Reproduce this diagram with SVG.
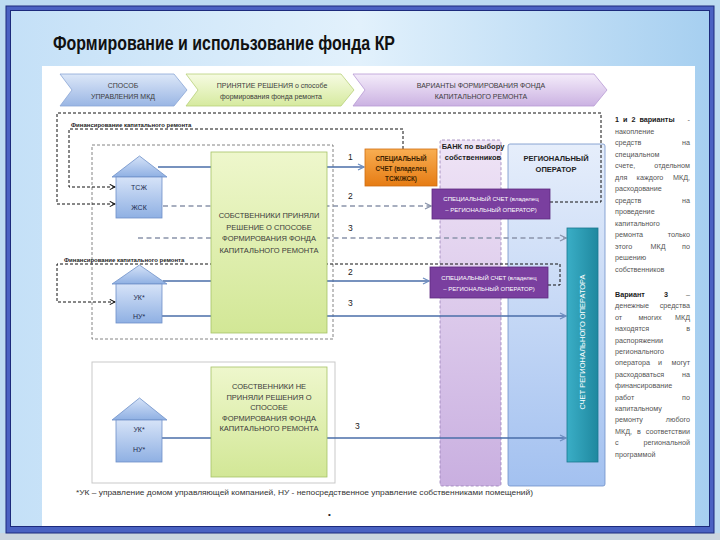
<svg xmlns="http://www.w3.org/2000/svg" width="720" height="540" viewBox="0 0 720 540">
<defs>
<linearGradient id="bgIn" x1="0" y1="0" x2="1" y2="0"><stop offset="0" stop-color="#c4e0f7"/><stop offset="0.5" stop-color="#e2f1fc"/><stop offset="1" stop-color="#a6cff0"/></linearGradient>
<linearGradient id="gChB" x1="0" y1="0" x2="0" y2="1"><stop offset="0" stop-color="#dce7f8"/><stop offset="1" stop-color="#9ab6e4"/></linearGradient>
<linearGradient id="gChG" x1="0" y1="0" x2="0" y2="1"><stop offset="0" stop-color="#f6fbe2"/><stop offset="1" stop-color="#d6ea9f"/></linearGradient>
<linearGradient id="gChP" x1="0" y1="0" x2="0" y2="1"><stop offset="0" stop-color="#f4ecfa"/><stop offset="1" stop-color="#cbb2e2"/></linearGradient>
<linearGradient id="gGreen" x1="0" y1="0" x2="0" y2="1"><stop offset="0" stop-color="#eef7cc"/><stop offset="1" stop-color="#d2e796"/></linearGradient>
<linearGradient id="gHouse" x1="0" y1="0" x2="0" y2="1"><stop offset="0" stop-color="#d6e3f8"/><stop offset="1" stop-color="#8fb0e3"/></linearGradient>
<linearGradient id="gOr" x1="0" y1="0" x2="0" y2="1"><stop offset="0" stop-color="#f8ae52"/><stop offset="1" stop-color="#e67c14"/></linearGradient>
<linearGradient id="gBank" x1="0" y1="0" x2="0" y2="1"><stop offset="0" stop-color="#efe4f6"/><stop offset="1" stop-color="#c9afe0"/></linearGradient>
<linearGradient id="gReg" x1="0" y1="0" x2="0" y2="1"><stop offset="0" stop-color="#e6eefb"/><stop offset="1" stop-color="#a3c1f0"/></linearGradient>
<linearGradient id="gTeal" x1="0" y1="0" x2="1" y2="0"><stop offset="0" stop-color="#3aaec6"/><stop offset="1" stop-color="#1f889f"/></linearGradient>
<marker id="aB" viewBox="0 0 8 8" refX="7" refY="4" markerWidth="8" markerHeight="8" markerUnits="userSpaceOnUse" orient="auto"><path d="M1,1 L7,4 L1,7" fill="none" stroke="#6f8fc0" stroke-width="1.3"/></marker>
<marker id="aG" viewBox="0 0 8 8" refX="7" refY="4" markerWidth="8" markerHeight="8" markerUnits="userSpaceOnUse" orient="auto"><path d="M1,1 L7,4 L1,7" fill="none" stroke="#8a94ab" stroke-width="1.3"/></marker>
<marker id="aK" viewBox="0 0 8 8" refX="7" refY="4" markerWidth="7" markerHeight="7" markerUnits="userSpaceOnUse" orient="auto"><path d="M1,1 L7,4 L1,7" fill="none" stroke="#111" stroke-width="1.2"/></marker>
</defs>
<style>
text{font-family:"Liberation Sans",Arial,sans-serif}
.chev{font-size:7px;fill:#3c3c3c;text-anchor:middle}
.gt{font-size:7.5px;fill:#3a3a3a;text-anchor:middle}
.ht{font-size:7px;fill:#1f2d50;text-anchor:middle}
.num{font-size:8.5px;fill:#222}
.fin{font-size:6px;font-weight:bold;fill:#222}
.rc{font-size:7.2px;fill:#555}
.rce{font-size:7.2px;fill:#555;text-anchor:end}
.rcm{font-size:7.2px;fill:#555;text-anchor:middle}
.rb{font-weight:bold;fill:#1a1a1a}
.ot{font-size:6.3px;fill:#3d1f00;text-anchor:middle;font-weight:bold}
.pt{font-size:6px;fill:#fff;text-anchor:middle}
.ct{font-size:7.5px;fill:#222;text-anchor:middle;font-weight:bold}
.sol{fill:none;stroke:#4a6ea8;stroke-width:1.3;marker-end:url(#aB)}
.dsh{fill:none;stroke:#8a94ab;stroke-width:1.3;stroke-dasharray:5 3.5;marker-end:url(#aG)}
.fl{fill:none;stroke:#111;stroke-width:1;stroke-dasharray:3 2;marker-end:url(#aK)}
.house{fill:url(#gHouse);stroke:#6e90c8;stroke-width:0.8}
.green{fill:url(#gGreen);stroke:#a5c266;stroke-width:0.8}
.purp{fill:#7a3f9f;stroke:#5e2c80;stroke-width:0.8}
</style>

<!-- background and frame -->
<rect x="0" y="0" width="720" height="540" fill="#bcdbf1"/>
<rect x="0" y="533" width="720" height="7" fill="#cbd6df"/>
<rect x="6" y="6" width="708" height="527" fill="#4a62c2" stroke="#1c2a7c" stroke-width="1"/>
<rect x="10.5" y="10.5" width="699" height="516" fill="url(#bgIn)" stroke="#1c2a7c" stroke-width="1"/>
<rect x="42" y="66" width="653" height="460" fill="#ffffff"/>

<text x="53" y="50" font-size="20" font-weight="bold" fill="#111" textLength="342" lengthAdjust="spacingAndGlyphs">Формирование и использование фонда КР</text>

<!-- chevrons -->
<g id="step1">
<path d="M60,74 L174,74 L187,90 L174,106 L60,106 L72,90 Z" fill="url(#gChB)" stroke="#8aa6d6" stroke-width="0.8"/>
<text class="chev" x="123" y="87.5">СПОСОБ</text>
<text class="chev" x="123" y="99">УПРАВЛЕНИЯ МКД</text>
</g>
<g id="step2">
<path d="M186,74 L341,74 L354,90 L341,106 L186,106 L198,90 Z" fill="url(#gChG)" stroke="#b7d07a" stroke-width="0.8"/>
<text class="chev" x="272" y="87.5">ПРИНЯТИЕ РЕШЕНИЯ о способе</text>
<text class="chev" x="271" y="99">формирования фонда ремонта</text>
</g>
<g id="step3">
<path d="M353,74 L594,74 L607,90 L594,106 L353,106 L365,90 Z" fill="url(#gChP)" stroke="#b89bd4" stroke-width="0.8"/>
<text class="chev" x="481" y="87.5">ВАРИАНТЫ ФОРМИРОВАНИЯ ФОНДА</text>
<text class="chev" x="481" y="99">КАПИТАЛЬНОГО РЕМОНТА</text>
</g>

<!-- group frames -->
<g id="group-decided">
<rect x="92" y="145" width="241" height="194" fill="none" stroke="#666" stroke-width="0.8" stroke-dasharray="3 2"/>
</g>
<g id="group-undecided">
<rect x="92" y="362" width="243" height="121" fill="none" stroke="#c9c9c9" stroke-width="1"/>
</g>

<!-- columns -->
<g id="bank">
<rect x="440" y="140" width="61" height="346" rx="2" fill="url(#gBank)" stroke="#9a80b8" stroke-width="0.8" stroke-dasharray="3 2"/>
<text class="ct" x="473" y="148.5" font-size="7">БАНК по выбору</text>
<text class="ct" x="473" y="160" font-size="7">собственников</text>
</g>
<g id="regional-operator">
<rect x="508" y="144" width="97" height="342" rx="2" fill="url(#gReg)" stroke="#6f8fc8" stroke-width="0.8"/>
<text class="ct" x="556" y="161">РЕГИОНАЛЬНЫЙ</text>
<text class="ct" x="556" y="172">ОПЕРАТОР</text>
</g>

<!-- connectors -->
<g id="connectors">
<path class="fl" d="M550,202 L601,202 L601,113 L57,113 L57,204 L115,204"/>
<path class="fl" d="M403,149 L403,129 L69,129 L69,187 L115,187"/>
<path class="fl" d="M548,285 L560,285 L560,264 L57,264 L57,302 L115,302"/>
<path class="sol" d="M158,167 L364,167"/>
<path class="dsh" d="M163,206 L431,206"/>
<path class="dsh" d="M138,238 L566,238"/>
<path class="sol" d="M163,281 L429,281"/>
<path class="sol" d="M162,316 L566,316"/>
<path class="sol" d="M162,438 L566,438"/>
<text class="num" x="348" y="160">1</text>
<text class="num" x="348" y="199">2</text>
<text class="num" x="348" y="231">3</text>
<text class="num" x="348" y="275">2</text>
<text class="num" x="348" y="306">3</text>
<text class="num" x="355" y="429">3</text>
<text class="fin" x="71" y="126.5">Финансирование капитального ремонта</text>
<text class="fin" x="64" y="261.5">Финансирование капитального ремонта</text>
</g>

<!-- houses -->
<g id="house-tszh">
<polygon class="house" points="112,177 139.5,156 167,177"/>
<rect class="house" x="116" y="177" width="46" height="41"/>
<text class="ht" x="139" y="189.5">ТСЖ</text>
<text class="ht" x="139" y="209.5">ЖСК</text>
</g>
<g id="house-uk1">
<polygon class="house" points="112,284 139.5,265 167,284"/>
<rect class="house" x="116" y="284" width="46" height="39"/>
<text class="ht" x="139" y="299.5">УК*</text>
<text class="ht" x="139" y="319">НУ*</text>
</g>
<g id="house-uk2">
<polygon class="house" points="112,420 139.5,398 167,420"/>
<rect class="house" x="116" y="420" width="46" height="42"/>
<text class="ht" x="139" y="432">УК*</text>
<text class="ht" x="139" y="452">НУ*</text>
</g>

<!-- green decision boxes -->
<g id="decided">
<rect class="green" x="211" y="152" width="116" height="181"/>
<text class="gt" x="269" y="218">СОБСТВЕННИКИ ПРИНЯЛИ</text>
<text class="gt" x="269" y="229.5">РЕШЕНИЕ О СПОСОБЕ</text>
<text class="gt" x="269" y="241">ФОРМИРОВАНИЯ ФОНДА</text>
<text class="gt" x="269" y="252.5">КАПИТАЛЬНОГО РЕМОНТА</text>
</g>
<g id="undecided">
<rect class="green" x="211" y="367" width="116" height="110"/>
<text class="gt" x="269" y="389">СОБСТВЕННИКИ НЕ</text>
<text class="gt" x="269" y="399.5">ПРИНЯЛИ РЕШЕНИЯ О</text>
<text class="gt" x="269" y="410">СПОСОБЕ</text>
<text class="gt" x="269" y="420.5">ФОРМИРОВАНИЯ ФОНДА</text>
<text class="gt" x="269" y="431">КАПИТАЛЬНОГО РЕМОНТА</text>
</g>

<!-- accounts -->
<g id="special-account-owner">
<rect x="365" y="149" width="72" height="37" fill="url(#gOr)" stroke="#d06d10" stroke-width="0.8"/>
<text class="ot" x="401" y="161">СПЕЦИАЛЬНЫЙ</text>
<text class="ot" x="401" y="171">СЧЕТ (владелец</text>
<text class="ot" x="401" y="181">ТСЖ/ЖСК)</text>
</g>
<g id="special-account-ro-1">
<rect class="purp" x="432" y="189" width="118" height="30"/>
<text class="pt" x="491" y="201">СПЕЦИАЛЬНЫЙ СЧЕТ (владелец</text>
<text class="pt" x="491" y="212">– РЕГИОНАЛЬНЫЙ ОПЕРАТОР)</text>
</g>
<g id="special-account-ro-2">
<rect class="purp" x="430" y="267" width="118" height="31"/>
<text class="pt" x="489" y="279.5">СПЕЦИАЛЬНЫЙ СЧЕТ (владелец</text>
<text class="pt" x="489" y="290.5">– РЕГИОНАЛЬНЫЙ ОПЕРАТОР)</text>
</g>
<g id="ro-account">
<rect x="567" y="228" width="31" height="234" fill="url(#gTeal)" stroke="#1a7890" stroke-width="0.8"/>
<text transform="translate(585,342) rotate(-90)" text-anchor="middle" font-size="7.5" fill="#ffffff">СЧЕТ РЕГИОНАЛЬНОГО ОПЕРАТОРА</text>
</g>

<!-- right explanatory text -->
<g id="notes">
<text class="rc rb" x="615" y="122" word-spacing="2">1 и 2 варианты</text><text class="rce" x="690" y="122">-</text>
<text class="rc" x="615" y="133.5">накопление</text>
<text class="rc" x="615" y="145">средств</text><text class="rce" x="690" y="145">на</text>
<text class="rc" x="615" y="156.5">специальном</text>
<text class="rc" x="615" y="168">счете,</text><text class="rce" x="690" y="168">отдельном</text>
<text class="rc" x="615" y="179.5">для</text><text class="rcm" x="650" y="179.5">каждого</text><text class="rce" x="690" y="179.5">МКД,</text>
<text class="rc" x="615" y="191">расходование</text>
<text class="rc" x="615" y="202.5">средств</text><text class="rce" x="690" y="202.5">на</text>
<text class="rc" x="615" y="214">проведение</text>
<text class="rc" x="615" y="225.5">капитального</text>
<text class="rc" x="615" y="237">ремонта</text><text class="rce" x="690" y="237">только</text>
<text class="rc" x="615" y="248.5">этого</text><text class="rcm" x="658" y="248.5">МКД</text><text class="rce" x="690" y="248.5">по</text>
<text class="rc" x="615" y="260">решению</text>
<text class="rc" x="615" y="271.5">собственников</text>

<text class="rc rb" x="615" y="297">Вариант</text><text class="rcm rb" x="666" y="297">3</text><text class="rce" x="690" y="297">–</text>
<text class="rc" x="615" y="308.4">денежные</text><text class="rce" x="690" y="308.4">средства</text>
<text class="rc" x="615" y="319.8">от</text><text class="rcm" x="650" y="319.8">многих</text><text class="rce" x="690" y="319.8">МКД</text>
<text class="rc" x="615" y="331.2">находятся</text><text class="rce" x="690" y="331.2">в</text>
<text class="rc" x="615" y="342.6">распоряжении</text>
<text class="rc" x="615" y="354">регионального</text>
<text class="rc" x="615" y="365.4">оператора</text><text class="rcm" x="660" y="365.4">и</text><text class="rce" x="690" y="365.4">могут</text>
<text class="rc" x="615" y="376.8">расходоваться</text><text class="rce" x="690" y="376.8">на</text>
<text class="rc" x="615" y="388.2">финансирование</text>
<text class="rc" x="615" y="399.6">работ</text><text class="rce" x="690" y="399.6">по</text>
<text class="rc" x="615" y="411">капитальному</text>
<text class="rc" x="615" y="422.4">ремонту</text><text class="rce" x="690" y="422.4">любого</text>
<text class="rc" x="615" y="433.8">МКД,</text><text class="rcm" x="639" y="433.8">в</text><text class="rce" x="690" y="433.8">соответствии</text>
<text class="rc" x="615" y="445.2">с</text><text class="rce" x="690" y="445.2">региональной</text>
<text class="rc" x="615" y="456.6">программой</text>
</g>

<text x="76" y="495" font-size="6.5" fill="#333" textLength="457" lengthAdjust="spacingAndGlyphs">*УК – управление домом управляющей компанией, НУ - непосредственное управление собственниками помещений)</text>
<text x="328" y="517" font-size="8" fill="#222">•</text>
</svg>
